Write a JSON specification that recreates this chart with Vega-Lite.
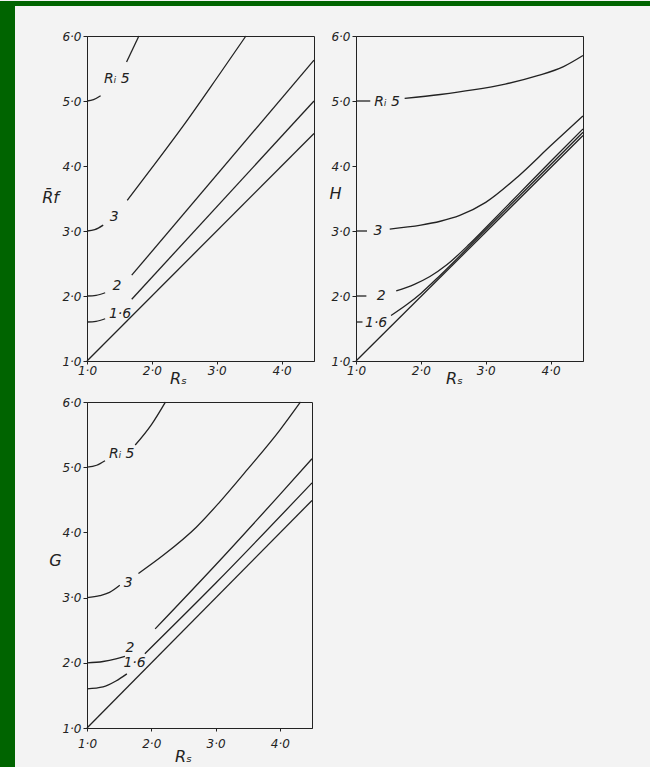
{
  "$schema": "https://vega.github.io/schema/vega-lite/v6.json",
  "background": "#f3f3f3",
  "padding": 0,
  "spacing": 0,
  "config": {
    "view": {"stroke": "#222", "strokeWidth": 1},
    "axis": {"grid": false, "domainColor": "#222", "domainWidth": 1, "tickColor": "#222", "tickWidth": 1,
      "labelFont": "DejaVu Sans", "labelFontStyle": "italic", "labelFontSize": 12, "labelColor": "#222",
      "titleFont": "DejaVu Sans", "titleFontStyle": "italic", "titleFontWeight": "normal", "titleFontSize": 16, "titleColor": "#222"},
    "text": {"font": "DejaVu Sans", "fontStyle": "italic", "fontSize": 14, "color": "#222"},
    "line": {"color": "#222", "strokeWidth": 1.3, "interpolate": "monotone", "clip": true}
  },
  "datasets": {
    "rf": [
      {"Rs": 1, "v": 1, "seg": "1"}, {"Rs": 4.5, "v": 4.5, "seg": "1"},
      {"Rs": 1, "v": 1.6, "seg": "1.6a"}, {"Rs": 1.14, "v": 1.61, "seg": "1.6a"}, {"Rs": 1.28, "v": 1.65, "seg": "1.6a"},
      {"Rs": 1.69, "v": 1.95, "seg": "1.6b"}, {"Rs": 4.5, "v": 5.0, "seg": "1.6b"},
      {"Rs": 1, "v": 2, "seg": "2a"}, {"Rs": 1.14, "v": 2.01, "seg": "2a"}, {"Rs": 1.28, "v": 2.05, "seg": "2a"},
      {"Rs": 1.69, "v": 2.32, "seg": "2b"}, {"Rs": 4.5, "v": 5.63, "seg": "2b"},
      {"Rs": 1, "v": 3, "seg": "3a"}, {"Rs": 1.12, "v": 3.02, "seg": "3a"}, {"Rs": 1.25, "v": 3.09, "seg": "3a"},
      {"Rs": 1.62, "v": 3.47, "seg": "3b"}, {"Rs": 2.0, "v": 3.97, "seg": "3b"}, {"Rs": 2.5, "v": 4.64, "seg": "3b"}, {"Rs": 3.0, "v": 5.35, "seg": "3b"}, {"Rs": 3.45, "v": 6.0, "seg": "3b"},
      {"Rs": 1, "v": 5, "seg": "5a"}, {"Rs": 1.1, "v": 5.02, "seg": "5a"}, {"Rs": 1.21, "v": 5.08, "seg": "5a"},
      {"Rs": 1.61, "v": 5.6, "seg": "5b"}, {"Rs": 1.8, "v": 6.0, "seg": "5b"}
    ],
    "rf_lab": [
      {"Rs": 1.46, "v": 5.34, "t": "Rᵢ 5"}, {"Rs": 1.42, "v": 3.21, "t": "3"},
      {"Rs": 1.46, "v": 2.16, "t": "2"}, {"Rs": 1.51, "v": 1.73, "t": "1·6"}
    ],
    "h": [
      {"Rs": 1, "v": 1, "seg": "1"}, {"Rs": 4.5, "v": 4.47, "seg": "1"},
      {"Rs": 1, "v": 1.6, "seg": "1.6a"}, {"Rs": 1.1, "v": 1.6, "seg": "1.6a"},
      {"Rs": 1.54, "v": 1.7, "seg": "1.6b"}, {"Rs": 1.8, "v": 1.88, "seg": "1.6b"}, {"Rs": 2.0, "v": 2.04, "seg": "1.6b"}, {"Rs": 2.3, "v": 2.32, "seg": "1.6b"}, {"Rs": 3.0, "v": 3.02, "seg": "1.6b"}, {"Rs": 4.5, "v": 4.52, "seg": "1.6b"},
      {"Rs": 1, "v": 2, "seg": "2a"}, {"Rs": 1.16, "v": 2.0, "seg": "2a"},
      {"Rs": 1.62, "v": 2.08, "seg": "2b"}, {"Rs": 1.9, "v": 2.18, "seg": "2b"}, {"Rs": 2.14, "v": 2.3, "seg": "2b"}, {"Rs": 2.4, "v": 2.48, "seg": "2b"}, {"Rs": 2.75, "v": 2.8, "seg": "2b"}, {"Rs": 3.0, "v": 3.05, "seg": "2b"}, {"Rs": 3.5, "v": 3.56, "seg": "2b"}, {"Rs": 4.0, "v": 4.07, "seg": "2b"}, {"Rs": 4.5, "v": 4.57, "seg": "2b"},
      {"Rs": 1, "v": 3, "seg": "3a"}, {"Rs": 1.17, "v": 3.0, "seg": "3a"},
      {"Rs": 1.52, "v": 3.03, "seg": "3b"}, {"Rs": 2.0, "v": 3.09, "seg": "3b"}, {"Rs": 2.3, "v": 3.15, "seg": "3b"}, {"Rs": 2.6, "v": 3.24, "seg": "3b"}, {"Rs": 3.0, "v": 3.44, "seg": "3b"}, {"Rs": 3.5, "v": 3.84, "seg": "3b"}, {"Rs": 4.0, "v": 4.31, "seg": "3b"}, {"Rs": 4.5, "v": 4.77, "seg": "3b"},
      {"Rs": 1, "v": 5, "seg": "5a"}, {"Rs": 1.22, "v": 5.0, "seg": "5a"},
      {"Rs": 1.75, "v": 5.04, "seg": "5b"}, {"Rs": 2.3, "v": 5.1, "seg": "5b"}, {"Rs": 2.8, "v": 5.17, "seg": "5b"}, {"Rs": 3.3, "v": 5.26, "seg": "5b"}, {"Rs": 3.8, "v": 5.39, "seg": "5b"}, {"Rs": 4.2, "v": 5.53, "seg": "5b"}, {"Rs": 4.5, "v": 5.7, "seg": "5b"}
    ],
    "h_lab": [
      {"Rs": 1.48, "v": 4.98, "t": "Rᵢ 5"}, {"Rs": 1.34, "v": 3.0, "t": "3"},
      {"Rs": 1.39, "v": 2.0, "t": "2"}, {"Rs": 1.31, "v": 1.59, "t": "1·6"}
    ],
    "g": [
      {"Rs": 1, "v": 1, "seg": "1"}, {"Rs": 4.5, "v": 4.49, "seg": "1"},
      {"Rs": 1, "v": 1.6, "seg": "1.6a"}, {"Rs": 1.25, "v": 1.63, "seg": "1.6a"}, {"Rs": 1.45, "v": 1.72, "seg": "1.6a"}, {"Rs": 1.62, "v": 1.83, "seg": "1.6a"},
      {"Rs": 1.9, "v": 2.14, "seg": "1.6b"}, {"Rs": 3.0, "v": 3.22, "seg": "1.6b"}, {"Rs": 4.5, "v": 4.76, "seg": "1.6b"},
      {"Rs": 1, "v": 2.0, "seg": "2a"}, {"Rs": 1.25, "v": 2.02, "seg": "2a"}, {"Rs": 1.45, "v": 2.06, "seg": "2a"}, {"Rs": 1.59, "v": 2.1, "seg": "2a"},
      {"Rs": 2.06, "v": 2.52, "seg": "2b"}, {"Rs": 3.0, "v": 3.5, "seg": "2b"}, {"Rs": 4.0, "v": 4.58, "seg": "2b"}, {"Rs": 4.5, "v": 5.13, "seg": "2b"},
      {"Rs": 1, "v": 3.0, "seg": "3a"}, {"Rs": 1.2, "v": 3.03, "seg": "3a"}, {"Rs": 1.35, "v": 3.08, "seg": "3a"}, {"Rs": 1.51, "v": 3.19, "seg": "3a"},
      {"Rs": 1.8, "v": 3.37, "seg": "3b"}, {"Rs": 2.2, "v": 3.66, "seg": "3b"}, {"Rs": 2.7, "v": 4.08, "seg": "3b"}, {"Rs": 3.05, "v": 4.45, "seg": "3b"}, {"Rs": 3.5, "v": 4.97, "seg": "3b"}, {"Rs": 4.0, "v": 5.57, "seg": "3b"}, {"Rs": 4.32, "v": 6.0, "seg": "3b"},
      {"Rs": 1, "v": 5.0, "seg": "5a"}, {"Rs": 1.15, "v": 5.03, "seg": "5a"}, {"Rs": 1.28, "v": 5.1, "seg": "5a"},
      {"Rs": 1.75, "v": 5.34, "seg": "5b"}, {"Rs": 2.0, "v": 5.65, "seg": "5b"}, {"Rs": 2.22, "v": 6.0, "seg": "5b"}
    ],
    "g_lab": [
      {"Rs": 1.54, "v": 5.21, "t": "Rᵢ 5"}, {"Rs": 1.64, "v": 3.22, "t": "3"},
      {"Rs": 1.67, "v": 2.22, "t": "2"}, {"Rs": 1.74, "v": 1.99, "t": "1·6"}
    ],
    "blank": [{"a": 1}]
  },
  "hconcat": [
    {"width": 15, "height": 800, "data": {"name": "blank"}, "mark": {"type": "point", "opacity": 0}, "view": {"fill": "#006400", "stroke": null}},
    {
      "spacing": 22,
      "vconcat": [
        {"width": 635, "height": 5, "data": {"name": "blank"}, "mark": {"type": "point", "opacity": 0}, "view": {"fill": "#006400", "stroke": null}},
        {
          "spacing": 0,
          "hconcat": [
            {"width": 26, "height": 1, "data": {"name": "blank"}, "mark": {"type": "point", "opacity": 0}, "view": {"stroke": null}},
            {
              "columns": 2,
              "bounds": "flush",
              "spacing": {"row": 41, "column": 42},
              "concat": [
                {
                  "width": 227, "height": 325,
                  "layer": [
                    {"data": {"name": "rf"}, "mark": {"type": "line"},
                      "encoding": {
                        "x": {"field": "Rs", "type": "quantitative", "scale": {"domain": [1, 4.5], "nice": false, "zero": false},
                          "axis": {"title": "Rₛ", "values": [1, 2, 3, 4], "labelExpr": "replace(format(datum.value, '.1f'), '.', '·')", "labelFlush": false, "tickSize": 3, "labelPadding": 1, "labelDx": 3, "titleX": 91, "titleY": 17, "titleAlign": "center", "titleBaseline": "middle"}},
                        "y": {"field": "v", "type": "quantitative", "scale": {"domain": [1, 6], "nice": false, "zero": false},
                          "axis": {"title": "R̄f", "values": [1, 2, 3, 4, 5, 6], "labelExpr": "replace(format(datum.value, '.1f'), '.', '·')", "tickSize": 4, "labelPadding": 2, "titleAngle": 0, "titleX": -37, "titleY": 161, "titleAlign": "center", "titleBaseline": "middle"}},
                        "detail": {"field": "seg"}
                      }},
                    {"data": {"name": "rf_lab"}, "mark": {"type": "text"},
                      "encoding": {"x": {"field": "Rs", "type": "quantitative"}, "y": {"field": "v", "type": "quantitative"}, "text": {"field": "t"}}}
                  ]
                },
                {
                  "width": 227, "height": 325,
                  "layer": [
                    {"data": {"name": "h"}, "mark": {"type": "line"},
                      "encoding": {
                        "x": {"field": "Rs", "type": "quantitative", "scale": {"domain": [1, 4.5], "nice": false, "zero": false},
                          "axis": {"title": "Rₛ", "values": [1, 2, 3, 4], "labelExpr": "replace(format(datum.value, '.1f'), '.', '·')", "labelFlush": false, "tickSize": 3, "labelPadding": 1, "labelDx": 3, "titleX": 98, "titleY": 17, "titleAlign": "center", "titleBaseline": "middle"}},
                        "y": {"field": "v", "type": "quantitative", "scale": {"domain": [1, 6], "nice": false, "zero": false},
                          "axis": {"title": "H", "values": [1, 2, 3, 4, 5, 6], "labelExpr": "replace(format(datum.value, '.1f'), '.', '·')", "tickSize": 4, "labelPadding": 2, "titleAngle": 0, "titleX": -21, "titleY": 157, "titleAlign": "center", "titleBaseline": "middle"}},
                        "detail": {"field": "seg"}
                      }},
                    {"data": {"name": "h_lab"}, "mark": {"type": "text"},
                      "encoding": {"x": {"field": "Rs", "type": "quantitative"}, "y": {"field": "v", "type": "quantitative"}, "text": {"field": "t"}}}
                  ]
                },
                {
                  "width": 225, "height": 326,
                  "layer": [
                    {"data": {"name": "g"}, "mark": {"type": "line"},
                      "encoding": {
                        "x": {"field": "Rs", "type": "quantitative", "scale": {"domain": [1, 4.5], "nice": false, "zero": false},
                          "axis": {"title": "Rₛ", "values": [1, 2, 3, 4], "labelExpr": "replace(format(datum.value, '.1f'), '.', '·')", "labelFlush": false, "tickSize": 3, "labelPadding": 7, "labelDx": 4, "titleX": 96, "titleY": 28, "titleAlign": "center", "titleBaseline": "middle"}},
                        "y": {"field": "v", "type": "quantitative", "scale": {"domain": [1, 6], "nice": false, "zero": false},
                          "axis": {"title": "G", "values": [1, 2, 3, 4, 5, 6], "labelExpr": "replace(format(datum.value, '.1f'), '.', '·')", "tickSize": 4, "labelPadding": 2, "titleAngle": 0, "titleX": -32, "titleY": 158, "titleAlign": "center", "titleBaseline": "middle"}},
                        "detail": {"field": "seg"}
                      }},
                    {"data": {"name": "g_lab"}, "mark": {"type": "text"},
                      "encoding": {"x": {"field": "Rs", "type": "quantitative"}, "y": {"field": "v", "type": "quantitative"}, "text": {"field": "t"}}}
                  ]
                }
              ]
            }
          ]
        }
      ]
    }
  ]
}
